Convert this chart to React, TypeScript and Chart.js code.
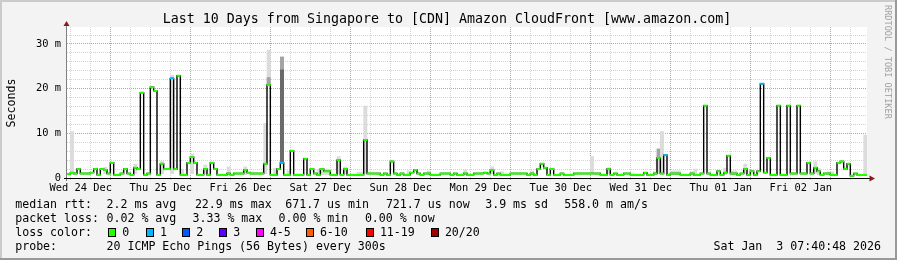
import React, { useEffect, useRef } from 'react';
import { Chart, registerables } from 'chart.js';

Chart.register(...registerables);

// ---------------- data ----------------
const HOURS = 240; // 10 days, hourly consolidated samples
const FIRST_MIDNIGHT = 16.1; // hours from graph start to Thu 25 Dec 00:00

const dayLabels = [
  'Wed 24 Dec', 'Thu 25 Dec', 'Fri 26 Dec', 'Sat 27 Dec', 'Sun 28 Dec',
  'Mon 29 Dec', 'Tue 30 Dec', 'Wed 31 Dec', 'Thu 01 Jan', 'Fri 02 Jan',
];

// median rtt per hour, ms
const median = [
  0.9, 1.2, 1.0, 2.0, 1.0, 1.0, 1.0, 1.2, 2.0, 0.7,
  2.0, 1.8, 1.0, 3.4, 0.7, 0.7, 1.0, 2.0, 1.0, 0.7,
  2.3, 2.0, 19.1, 0.7, 1.0, 20.3, 19.5, 0.7, 3.2, 2.0,
  2.0, 22.3, 2.0, 22.9, 0.7, 0.7, 3.4, 4.7, 3.4, 0.7,
  0.7, 2.0, 0.7, 3.4, 2.0, 0.7, 0.7, 0.7,
  1.0, 0.7, 1.0, 1.0, 1.0, 1.8, 1.2, 1.0, 1.0, 1.0,
  1.0, 3.2, 20.8, 0.7, 0.7, 2.0, 3.4, 0.7, 0.7, 6.1,
  0.7, 0.7, 0.7, 4.3, 0.7, 2.0, 1.0, 0.7, 2.0, 1.5,
  1.5, 0.7, 0.7, 4.0, 0.7, 2.0, 0.7, 0.7, 0.7, 0.7,
  0.7, 8.5, 1.0, 1.0, 1.0, 1.0, 0.7, 1.0,
  0.7, 3.7, 1.0, 0.7, 1.0, 0.7, 0.7, 1.2, 1.8, 1.0,
  0.7, 1.0, 1.0, 0.7, 0.7, 0.7, 1.0, 1.0, 1.0, 0.7,
  1.0, 0.7, 0.7, 1.0, 0.7, 0.7, 1.0, 1.0, 1.0, 1.2,
  1.0, 1.8, 0.7, 1.0, 0.7, 0.7, 0.7, 1.0, 1.0, 1.0,
  1.0, 1.0, 0.7, 1.0, 0.7, 2.0, 3.2, 2.3,
  0.7, 2.0, 0.7, 0.7, 1.0, 0.7, 0.7, 0.7, 1.0, 1.0,
  1.0, 1.0, 1.0, 1.0, 1.0, 1.0, 0.7, 0.7, 2.0, 0.7,
  1.0, 0.7, 0.7, 1.0, 1.0, 0.7, 0.7, 0.7, 0.7, 1.2,
  0.7, 0.7, 1.0, 4.5, 1.0, 5.1, 0.7, 1.0, 1.0, 1.0,
  0.7, 0.7, 0.7, 1.0, 0.7, 0.7, 1.0, 16.2,
  1.0, 0.7, 0.7, 1.5, 0.7, 1.2, 5.0, 1.0, 1.0, 0.7,
  1.0, 2.0, 0.7, 1.5, 0.7, 1.5, 21.1, 1.2, 4.5, 0.7,
  0.7, 16.2, 0.7, 0.7, 16.2, 1.0, 1.0, 16.2, 1.0, 1.0,
  3.4, 1.0, 2.3, 1.5, 0.7, 1.0, 1.0, 0.7, 0.7, 3.4,
  3.7, 2.0, 3.2, 0.5, 1.0, 0.7, 0.7, 0.7,
];

// hours where 1 of 20 pings was lost
const lossOneHours = [31, 64, 179, 208];

// smoke: [hour, low ms, high ms, shade index]
const smokeBands: [number, number, number, number][] = [
  [1, 0.8, 10.4, 0], [11, 1.0, 2.4, 0], [20, 1.0, 3.1, 0], [28, 1.0, 3.7, 0],
  [31, 1.0, 23.0, 0], [34, 0.6, 2.0, 0], [37, 1.0, 5.4, 0], [41, 1.0, 2.9, 0],
  [48, 0.8, 2.5, 0], [53, 0.8, 2.5, 0], [59, 1.0, 12.2, 0],
  [60, 20.8, 28.6, 0], [60, 20.8, 22.5, 1],
  [62, 0.6, 2.2, 0],
  [64, 3.4, 27.1, 1], [64, 3.4, 24.2, 2],
  [66, 0.6, 1.6, 0], [75, 0.7, 2.0, 0], [76, 0.7, 2.0, 0], [77, 0.7, 2.0, 0],
  [78, 0.7, 2.0, 0], [81, 1.0, 4.8, 0], [83, 1.0, 2.5, 0], [87, 0.7, 1.3, 0],
  [88, 0.7, 1.3, 0], [89, 1.0, 16.1, 0], [102, 0.7, 1.6, 0], [108, 0.7, 1.6, 0],
  [119, 0.7, 1.8, 0], [127, 1.0, 2.5, 0], [130, 0.7, 1.4, 0], [139, 0.7, 1.6, 0],
  [157, 1.0, 4.8, 0], [162, 1.0, 2.3, 0], [176, 0.7, 1.4, 0],
  [177, 1.0, 6.5, 0], [177, 4.5, 6.5, 1], [178, 1.0, 10.4, 0],
  [181, 0.7, 1.6, 0], [182, 0.7, 1.6, 0], [183, 0.7, 1.6, 0], [187, 0.7, 1.4, 0],
  [188, 0.7, 2.0, 0], [197, 0.7, 2.2, 0], [199, 0.7, 1.6, 0], [200, 0.7, 1.6, 0],
  [203, 1.0, 3.1, 0], [224, 1.0, 3.7, 0], [225, 0.7, 2.2, 0], [228, 0.7, 1.4, 0],
  [229, 0.7, 1.4, 0], [239, 0.7, 9.6, 0],
];

const Y_MAX = 33.8;
const yGridValues = [0, 2, 4, 6, 8, 10, 12, 14, 16, 18, 20, 22, 24, 26, 28, 30, 32];

const title = 'Last 10 Days from Singapore to [CDN] Amazon CloudFront [www.amazon.com]';
const rttStats = ['2.2 ms avg', '22.9 ms max', '671.7 us min', '721.7 us now', '3.9 ms sd', '558.0 m am/s'];
const lossStats = ['0.02 % avg', '3.33 % max', '0.00 % min', '0.00 % now'];
const lossLegend = ['0', '1', '2', '3', '4-5', '6-10', '11-19', '20/20'];
const probeText = '20 ICMP Echo Pings (56 Bytes) every 300s';
const stamp = 'Sat Jan  3 07:40:48 2026';

// ---------------- styles / layout ----------------
const lossColors = ['#26ff00', '#00b8ff', '#0059ff', '#5e00ff', '#ff00fe', '#ff5e00', '#ff0000', '#a10000'];
const smokeShades = ['#dcdcdc', '#a4a4a4', '#6a6a6a'];
const MINOR_GRID = 'rgba(150,150,150,0.42)';
const MAJOR_GRID = 'rgba(255,50,50,0.6)';
const MONO = "'DejaVu Sans Mono', 'Liberation Mono', monospace";
const rttX = [106.5, 194.9, 285.2, 385.9, 485.2, 564.2];
const lossX = [106.5, 192.5, 278.5, 364.9];
const boxX = [108, 145.7, 182, 219, 255.7, 305.7, 365.7, 430.7];
const rowTop = [197, 211, 225, 239];

const isMidnight = (v: number) => {
  const r = (((v - FIRST_MIDNIGHT) % 24) + 24) % 24;
  return r < 0.01 || r > 23.99;
};

const framePlugin = {
  id: 'frame',
  beforeDraw(chart: any) {
    const { ctx, chartArea: a } = chart;
    ctx.save();
    ctx.fillStyle = '#ffffff';
    ctx.fillRect(a.left, a.top, a.right - a.left, a.bottom - a.top);
    ctx.restore();
  },
  afterDatasetsDraw(chart: any) {
    const { ctx, chartArea: a } = chart;
    ctx.save();
    ctx.lineWidth = 1;
    ctx.strokeStyle = '#808080';
    ctx.beginPath();
    ctx.moveTo(a.left - 0.5, a.bottom + 3);
    ctx.lineTo(a.left - 0.5, a.top - 3);
    ctx.stroke();
    ctx.strokeStyle = '#000000';
    ctx.beginPath();
    ctx.moveTo(a.left - 3, a.bottom + 0.5);
    ctx.lineTo(a.right + 4, a.bottom + 0.5);
    ctx.stroke();
    ctx.fillStyle = '#8c1818';
    ctx.beginPath();
    ctx.moveTo(a.left - 0.5, a.top - 6);
    ctx.lineTo(a.left - 3.5, a.top - 1);
    ctx.lineTo(a.left + 2.5, a.top - 1);
    ctx.closePath();
    ctx.fill();
    ctx.beginPath();
    ctx.moveTo(a.right + 8, a.bottom + 0.5);
    ctx.lineTo(a.right + 2.5, a.bottom - 2.5);
    ctx.lineTo(a.right + 2.5, a.bottom + 3.5);
    ctx.closePath();
    ctx.fill();
    ctx.restore();
  },
};

export default function App() {
  const ref = useRef<HTMLCanvasElement>(null);

  useEffect(() => {
    document.body.style.margin = '0';
    const pts = median.map((v, i) => ({ x: i + 0.5, y: v }));
    const linePts = [{ x: 0, y: median[0] }, ...pts, { x: HOURS, y: median[HOURS - 1] }];
    const chart = new Chart(ref.current as HTMLCanvasElement, {
      type: 'bar',
      data: {
        datasets: [
          {
            type: 'line',
            data: pts,
            showLine: false,
            pointStyle: 'line',
            pointRadius: (c: any) => (c.chart.chartArea ? (c.chart.chartArea.right - c.chart.chartArea.left) / HOURS / 2 + 0.35 : 1.7),
            pointHoverRadius: 1.7,
            pointBorderWidth: 2,
            pointBorderColor: (c: any) => (lossOneHours.includes(c.dataIndex) ? lossColors[1] : lossColors[0]),
            order: 0,
          } as any,
          {
            type: 'line',
            data: linePts,
            stepped: 'middle',
            borderColor: '#000000',
            borderWidth: 1.4,
            pointRadius: 0,
            fill: false,
            order: 1,
          } as any,
          {
            type: 'bar',
            data: smokeBands.map((b) => ({ x: b[0] + 0.5, y: [b[1], b[2]] })),
            backgroundColor: (c: any) => smokeShades[smokeBands[c.dataIndex]?.[3] ?? 0],
            borderWidth: 0,
            barPercentage: 1,
            categoryPercentage: 1,
            grouped: false,
            order: 2,
          } as any,
        ],
      },
      options: {
        responsive: false,
        animation: false,
        devicePixelRatio: 1,
        events: [],
        layout: { padding: { left: 0, top: 27, right: 30, bottom: 0 } },
        plugins: { legend: { display: false }, tooltip: { enabled: false }, title: { display: false } },
        scales: {
          x: {
            type: 'linear',
            min: 0,
            max: HOURS,
            offset: false,
            afterFit: (s: any) => { s.height = 82; },
            afterBuildTicks: (s: any) => {
              const t = [];
              for (let k = 0; ; k++) {
                const v = FIRST_MIDNIGHT - 12 + 6 * k;
                if (v >= HOURS) break;
                if (v > 0) t.push({ value: v });
              }
              s.ticks = t;
            },
            border: { display: false, dash: [1, 1] },
            grid: {
              color: (c: any) => (c.tick && isMidnight(c.tick.value) ? MAJOR_GRID : MINOR_GRID),
              lineWidth: 1,
              drawTicks: true,
              tickLength: 2,
              tickBorderDash: [],
              tickColor: (c: any) => (c.tick && isMidnight(c.tick.value) ? MAJOR_GRID : MINOR_GRID),
            },
            ticks: {
              autoSkip: false,
              maxRotation: 0,
              minRotation: 0,
              padding: 2,
              color: '#000000',
              font: { family: MONO, size: 10.4 },
              callback: (v: any) => {
                const d = (Number(v) - (FIRST_MIDNIGHT - 12)) / 24;
                const r = Math.round(d);
                return Math.abs(d - r) < 0.001 && dayLabels[r] ? dayLabels[r] : '';
              },
            },
          },
          y: {
            type: 'linear',
            min: 0,
            max: Y_MAX,
            afterFit: (s: any) => { s.width = 67; },
            afterBuildTicks: (s: any) => { s.ticks = yGridValues.map((v) => ({ value: v })); },
            border: { display: false, dash: [1, 1] },
            grid: {
              color: (c: any) => (c.tick && c.tick.value % 10 === 0 ? MAJOR_GRID : MINOR_GRID),
              lineWidth: 1,
              drawTicks: false,
            },
            ticks: {
              autoSkip: false,
              padding: 6,
              color: '#000000',
              font: { family: MONO, size: 10.4 },
              callback: (v: any) => (Number(v) % 10 === 0 ? (Number(v) === 0 ? '0' : `${v} m`) : ''),
            },
          },
        },
      },
      plugins: [framePlugin],
    } as any);
    return () => chart.destroy();
  }, []);

  const text = (content: string, left: number, top: number, extra: any = {}) => (
    <div
      style={{
        position: 'absolute', left, top, fontFamily: MONO, fontSize: 11.6, lineHeight: '14px',
        whiteSpace: 'pre', color: '#000', ...extra,
      }}
    >
      {content}
    </div>
  );

  return (
    <div style={{ position: 'relative', width: 897, height: 260, background: '#f3f3f3', overflow: 'hidden' }}>
      <canvas ref={ref} width={897} height={260} style={{ position: 'absolute', left: 0, top: 0 }} />
      <div style={{ position: 'absolute', left: 0, top: 0, width: 897, height: 2, background: '#cbcbcb' }} />
      <div style={{ position: 'absolute', left: 0, top: 0, width: 2, height: 260, background: '#cbcbcb' }} />
      <div style={{ position: 'absolute', left: 0, top: 258, width: 897, height: 2, background: '#999999' }} />
      <div style={{ position: 'absolute', left: 895, top: 0, width: 2, height: 260, background: '#999999' }} />
      <div
        style={{
          position: 'absolute', left: 0, top: 11.4, width: 894, textAlign: 'center', fontFamily: MONO,
          fontSize: 13.3, lineHeight: '16px', whiteSpace: 'pre', color: '#000',
        }}
      >
        {title}
      </div>
      <div
        style={{
          position: 'absolute', left: 10.95 - 60, top: 102.5 - 7, width: 120, height: 14, lineHeight: '14px',
          textAlign: 'center', fontFamily: MONO, fontSize: 11.6, transform: 'rotate(-90deg)', color: '#000',
        }}
      >
        Seconds
      </div>
      <div
        style={{
          position: 'absolute', left: 888 - 65, top: 70 - 5, width: 130, height: 10, lineHeight: '10px',
          textAlign: 'left', fontFamily: MONO, fontSize: 8.6, transform: 'rotate(90deg)', color: '#a0a0a0',
          whiteSpace: 'pre',
        }}
      >
        RRDTOOL / TOBI OETIKER
      </div>
      {text('median rtt:', 15.2, rowTop[0])}
      {rttStats.map((s, i) => <React.Fragment key={'r' + i}>{text(s, rttX[i], rowTop[0])}</React.Fragment>)}
      {text('packet loss:', 15.2, rowTop[1])}
      {lossStats.map((s, i) => <React.Fragment key={'l' + i}>{text(s, lossX[i], rowTop[1])}</React.Fragment>)}
      {text('loss color:', 15.2, rowTop[2])}
      {lossLegend.map((s, i) => (
        <React.Fragment key={'c' + i}>
          <div
            style={{
              position: 'absolute', left: boxX[i], top: 228, width: 8, height: 9, boxSizing: 'border-box',
              border: '1px solid #000', background: lossColors[i],
            }}
          />
          {text(s, boxX[i] + 14.2, rowTop[2])}
        </React.Fragment>
      ))}
      {text('probe:', 15.2, rowTop[3])}
      {text(probeText, 106.5, rowTop[3])}
      {text(stamp, 0, rowTop[3], { left: 'auto', right: 897 - 881 })}
    </div>
  );
}
